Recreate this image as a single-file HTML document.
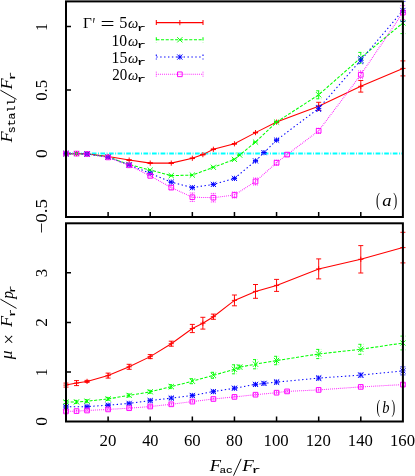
<!DOCTYPE html>
<html><head><meta charset="utf-8"><title>plot</title>
<style>html,body{margin:0;padding:0;background:#fff;}svg{display:block;}body{font-family:"Liberation Serif",serif;}</style></head>
<body>
<svg width="415" height="476" viewBox="0 0 415 476">
<rect width="415" height="476" fill="#ffffff"/>
<path d="M108.11 217.0v-5M108.11 421.5v-5M150.22 217.0v-5M150.22 421.5v-5M192.34 217.0v-5M192.34 421.5v-5M234.45 217.0v-5M234.45 421.5v-5M276.56 217.0v-5M276.56 421.5v-5M318.68 217.0v-5M318.68 421.5v-5M360.79 217.0v-5M360.79 421.5v-5M66.0 26.6h5M66.0 90.1h5M66.0 153.6h5M66.0 371.95h5M66.0 322.4h5M66.0 272.85h5" stroke="#000" stroke-width="1.5" fill="none"/>
<path d="M66.0 153.6H402.9" stroke="#00ffff" stroke-width="2.0" stroke-dasharray="4.7 1.5 0.9 1.5" fill="none"/>
<g id="pa">
<polyline points="66,153.6 76.53,153.6 87.06,153.8 108.11,156.5 129.17,160.1 150.22,163.1 171.28,163.1 192.34,158.3 202.87,154.6 213.39,149.3 234.45,143.8 255.51,132.6 276.56,122.1 318.68,106.3 360.79,86.3 402.9,68.4" fill="none" stroke="#ff0000" stroke-width="1.05"/>
<path d="M66 153.3V153.9M63.5 153.3H68.5M63.5 153.9H68.5M76.53 153.3V153.9M74.03 153.3H79.03M74.03 153.9H79.03M87.06 153.5V154.1M84.56 153.5H89.56M84.56 154.1H89.56M108.11 156.2V156.8M105.61 156.2H110.61M105.61 156.8H110.61M129.17 159.8V160.4M126.67 159.8H131.67M126.67 160.4H131.67M150.22 162.8V163.4M147.72 162.8H152.72M147.72 163.4H152.72M171.28 162.8V163.4M168.78 162.8H173.78M168.78 163.4H173.78M192.34 158V158.6M189.84 158H194.84M189.84 158.6H194.84M202.87 154.3V154.9M200.37 154.3H205.37M200.37 154.9H205.37M213.39 149V149.6M210.89 149H215.89M210.89 149.6H215.89M234.45 143.5V144.1M231.95 143.5H236.95M231.95 144.1H236.95M255.51 132.3V132.9M253.01 132.3H258.01M253.01 132.9H258.01M276.56 121.8V122.4M274.06 121.8H279.06M274.06 122.4H279.06M318.68 102.3V110.3M316.18 102.3H321.18M316.18 110.3H321.18M360.79 80.5V92.1M358.29 80.5H363.29M358.29 92.1H363.29M402.9 60.9V75.9M400.4 60.9H405.4M400.4 75.9H405.4" fill="none" stroke="#ff0000" stroke-width="0.95"/>
<path d="M63.4 153.6H68.6M66 151V156.2M73.93 153.6H79.13M76.53 151V156.2M84.46 153.8H89.66M87.06 151.2V156.4M105.51 156.5H110.71M108.11 153.9V159.1M126.57 160.1H131.77M129.17 157.5V162.7M147.62 163.1H152.82M150.22 160.5V165.7M168.68 163.1H173.88M171.28 160.5V165.7M189.74 158.3H194.94M192.34 155.7V160.9M200.27 154.6H205.47M202.87 152V157.2M210.79 149.3H215.99M213.39 146.7V151.9M231.85 143.8H237.05M234.45 141.2V146.4M252.91 132.6H258.11M255.51 130V135.2M273.96 122.1H279.16M276.56 119.5V124.7M316.07 106.3H321.28M318.68 103.7V108.9M358.19 86.3H363.39M360.79 83.7V88.9M400.3 68.4H405.5M402.9 65.8V71" fill="none" stroke="#ff0000" stroke-width="0.95"/>

<polyline points="66,153.6 76.53,153.6 87.06,154 108.11,157 129.17,164.5 150.22,170.1 171.28,175.6 192.34,175.1 213.39,167.3 234.45,159.4 239.71,155.1 255.51,142.1 276.56,122.1 318.68,94.8 360.79,57.8 402.9,22.9" fill="none" stroke="#00ff00" stroke-width="1.05" stroke-dasharray="3.1 1.6"/>
<path d="M66 153.3V153.9M63.5 153.3H68.5M63.5 153.9H68.5M76.53 153.3V153.9M74.03 153.3H79.03M74.03 153.9H79.03M87.06 153.7V154.3M84.56 153.7H89.56M84.56 154.3H89.56M108.11 156.7V157.3M105.61 156.7H110.61M105.61 157.3H110.61M129.17 164.2V164.8M126.67 164.2H131.67M126.67 164.8H131.67M150.22 169.8V170.4M147.72 169.8H152.72M147.72 170.4H152.72M171.28 175.3V175.9M168.78 175.3H173.78M168.78 175.9H173.78M192.34 174.8V175.4M189.84 174.8H194.84M189.84 175.4H194.84M213.39 167V167.6M210.89 167H215.89M210.89 167.6H215.89M234.45 159.1V159.7M231.95 159.1H236.95M231.95 159.7H236.95M239.71 154.8V155.4M237.21 154.8H242.21M237.21 155.4H242.21M255.51 141.8V142.4M253.01 141.8H258.01M253.01 142.4H258.01M276.56 121.8V122.4M274.06 121.8H279.06M274.06 122.4H279.06M318.68 90.8V98.8M316.18 90.8H321.18M316.18 98.8H321.18M360.79 52.4V63.2M358.29 52.4H363.29M358.29 63.2H363.29M402.9 12.2V33.6M400.4 12.2H405.4M400.4 33.6H405.4" fill="none" stroke="#00ff00" stroke-width="0.95" stroke-dasharray="3.1 1.6"/>
<path d="M63.4 151L68.6 156.2M63.4 156.2L68.6 151M73.93 151L79.13 156.2M73.93 156.2L79.13 151M84.46 151.4L89.66 156.6M84.46 156.6L89.66 151.4M105.51 154.4L110.71 159.6M105.51 159.6L110.71 154.4M126.57 161.9L131.77 167.1M126.57 167.1L131.77 161.9M147.62 167.5L152.82 172.7M147.62 172.7L152.82 167.5M168.68 173L173.88 178.2M168.68 178.2L173.88 173M189.74 172.5L194.94 177.7M189.74 177.7L194.94 172.5M210.79 164.7L215.99 169.9M210.79 169.9L215.99 164.7M231.85 156.8L237.05 162M231.85 162L237.05 156.8M237.11 152.5L242.31 157.7M237.11 157.7L242.31 152.5M252.91 139.5L258.11 144.7M252.91 144.7L258.11 139.5M273.96 119.5L279.16 124.7M273.96 124.7L279.16 119.5M316.07 92.2L321.28 97.4M316.07 97.4L321.28 92.2M358.19 55.2L363.39 60.4M358.19 60.4L363.39 55.2M400.3 20.3L405.5 25.5M400.3 25.5L405.5 20.3" fill="none" stroke="#00ff00" stroke-width="0.95"/>

<polyline points="66,153.6 87.06,154 108.11,157.2 129.17,165 150.22,173.3 171.28,182.1 192.34,187.6 213.39,184.4 234.45,178.4 255.51,160.9 263.93,152.6 276.56,140.1 318.68,108.4 360.79,60.2 402.9,10.5" fill="none" stroke="#0000ff" stroke-width="1.05" stroke-dasharray="1.4 2.5"/>
<path d="M66 153.3V153.9M63.5 153.3H68.5M63.5 153.9H68.5M87.06 153.7V154.3M84.56 153.7H89.56M84.56 154.3H89.56M108.11 156.9V157.5M105.61 156.9H110.61M105.61 157.5H110.61M129.17 164.7V165.3M126.67 164.7H131.67M126.67 165.3H131.67M150.22 173V173.6M147.72 173H152.72M147.72 173.6H152.72M171.28 181.8V182.4M168.78 181.8H173.78M168.78 182.4H173.78M192.34 187.3V187.9M189.84 187.3H194.84M189.84 187.9H194.84M213.39 184.1V184.7M210.89 184.1H215.89M210.89 184.7H215.89M234.45 178.1V178.7M231.95 178.1H236.95M231.95 178.7H236.95M255.51 160.6V161.2M253.01 160.6H258.01M253.01 161.2H258.01M263.93 152.3V152.9M261.43 152.3H266.43M261.43 152.9H266.43M276.56 139.8V140.4M274.06 139.8H279.06M274.06 140.4H279.06M318.68 105.4V111.4M316.18 105.4H321.18M316.18 111.4H321.18M360.79 56.7V63.7M358.29 56.7H363.29M358.29 63.7H363.29M402.9 1.4V21.3M400.4 1.4H405.4M400.4 21.3H405.4" fill="none" stroke="#0000ff" stroke-width="0.95" stroke-dasharray="1.4 2.5"/>
<path d="M63.4 153.6H68.6M66 151V156.2M63.4 151L68.6 156.2M63.4 156.2L68.6 151M84.46 154H89.66M87.06 151.4V156.6M84.46 151.4L89.66 156.6M84.46 156.6L89.66 151.4M105.51 157.2H110.71M108.11 154.6V159.8M105.51 154.6L110.71 159.8M105.51 159.8L110.71 154.6M126.57 165H131.77M129.17 162.4V167.6M126.57 162.4L131.77 167.6M126.57 167.6L131.77 162.4M147.62 173.3H152.82M150.22 170.7V175.9M147.62 170.7L152.82 175.9M147.62 175.9L152.82 170.7M168.68 182.1H173.88M171.28 179.5V184.7M168.68 179.5L173.88 184.7M168.68 184.7L173.88 179.5M189.74 187.6H194.94M192.34 185V190.2M189.74 185L194.94 190.2M189.74 190.2L194.94 185M210.79 184.4H215.99M213.39 181.8V187M210.79 181.8L215.99 187M210.79 187L215.99 181.8M231.85 178.4H237.05M234.45 175.8V181M231.85 175.8L237.05 181M231.85 181L237.05 175.8M252.91 160.9H258.11M255.51 158.3V163.5M252.91 158.3L258.11 163.5M252.91 163.5L258.11 158.3M261.33 152.6H266.53M263.93 150V155.2M261.33 150L266.53 155.2M261.33 155.2L266.53 150M273.96 140.1H279.16M276.56 137.5V142.7M273.96 137.5L279.16 142.7M273.96 142.7L279.16 137.5M316.07 108.4H321.28M318.68 105.8V111M316.07 105.8L321.28 111M316.07 111L321.28 105.8M358.19 60.2H363.39M360.79 57.6V62.8M358.19 57.6L363.39 62.8M358.19 62.8L363.39 57.6M400.3 10.5H405.5M402.9 7.9V13.1M400.3 7.9L405.5 13.1M400.3 13.1L405.5 7.9" fill="none" stroke="#0000ff" stroke-width="0.95"/>

<polyline points="66,153.6 76.53,153.6 87.06,154 108.11,157.4 129.17,165.3 150.22,175.9 171.28,187.6 192.34,197.2 213.39,197.7 234.45,195 255.51,181.5 276.56,162.7 287.09,154.6 318.68,130.8 360.79,74.8 402.9,12.6" fill="none" stroke="#ff00ff" stroke-width="1.05" stroke-dasharray="0.8 1.15"/>
<path d="M66 153V154.2M63.5 153H68.5M63.5 154.2H68.5M76.53 153V154.2M74.03 153H79.03M74.03 154.2H79.03M87.06 153.4V154.6M84.56 153.4H89.56M84.56 154.6H89.56M108.11 156.6V158.2M105.61 156.6H110.61M105.61 158.2H110.61M129.17 164.5V166.1M126.67 164.5H131.67M126.67 166.1H131.67M150.22 174.9V176.9M147.72 174.9H152.72M147.72 176.9H152.72M171.28 185.6V189.6M168.78 185.6H173.78M168.78 189.6H173.78M192.34 192.9V201.5M189.84 192.9H194.84M189.84 201.5H194.84M213.39 193.4V202M210.89 193.4H215.89M210.89 202H215.89M234.45 192V198M231.95 192H236.95M231.95 198H236.95M255.51 178V185M253.01 178H258.01M253.01 185H258.01M276.56 160.2V165.2M274.06 160.2H279.06M274.06 165.2H279.06M287.09 152.6V156.6M284.59 152.6H289.59M284.59 156.6H289.59M318.68 128.3V133.3M316.18 128.3H321.18M316.18 133.3H321.18M360.79 70.9V78.7M358.29 70.9H363.29M358.29 78.7H363.29M402.9 5.6V19.6M400.4 5.6H405.4M400.4 19.6H405.4" fill="none" stroke="#ff00ff" stroke-width="0.95" stroke-dasharray="0.8 1.15"/>
<path d="M63.66 151.26H68.34V155.94H63.66ZM74.19 151.26H78.87V155.94H74.19ZM84.72 151.66H89.4V156.34H84.72ZM105.77 155.06H110.45V159.74H105.77ZM126.83 162.96H131.51V167.64H126.83ZM147.88 173.56H152.56V178.24H147.88ZM168.94 185.26H173.62V189.94H168.94ZM190 194.86H194.68V199.54H190ZM211.05 195.36H215.73V200.04H211.05ZM232.11 192.66H236.79V197.34H232.11ZM253.17 179.16H257.85V183.84H253.17ZM274.22 160.36H278.9V165.04H274.22ZM284.75 152.26H289.43V156.94H284.75ZM316.34 128.46H321.01V133.14H316.34ZM358.45 72.46H363.13V77.14H358.45ZM400.56 10.26H405.24V14.94H400.56Z" fill="none" stroke="#ff00ff" stroke-width="0.95"/>

</g><g id="pb">
<polyline points="66,385.1 76.53,383.1 87.06,381.4 108.11,375.6 129.17,366.8 150.22,356.6 171.28,343.7 192.34,328.5 202.87,323.2 213.39,316.7 234.45,300.4 255.51,291.4 276.56,285.4 318.68,268.9 360.79,259.3 402.9,247.6" fill="none" stroke="#ff0000" stroke-width="1.05"/>
<path d="M66 383.1V387.1M63.5 383.1H68.5M63.5 387.1H68.5M76.53 380.6V385.6M74.03 380.6H79.03M74.03 385.6H79.03M87.06 380.4V382.4M84.56 380.4H89.56M84.56 382.4H89.56M108.11 373.1V378.1M105.61 373.1H110.61M105.61 378.1H110.61M129.17 364.3V369.3M126.67 364.3H131.67M126.67 369.3H131.67M150.22 354.6V358.6M147.72 354.6H152.72M147.72 358.6H152.72M171.28 341.2V346.2M168.78 341.2H173.78M168.78 346.2H173.78M192.34 324.4V332.6M189.84 324.4H194.84M189.84 332.6H194.84M202.87 317.3V329.1M200.37 317.3H205.37M200.37 329.1H205.37M213.39 314.1V319.3M210.89 314.1H215.89M210.89 319.3H215.89M234.45 295V305.8M231.95 295H236.95M231.95 305.8H236.95M255.51 284.5V298.3M253.01 284.5H258.01M253.01 298.3H258.01M276.56 279.4V291.4M274.06 279.4H279.06M274.06 291.4H279.06M318.68 258.9V278.9M316.18 258.9H321.18M316.18 278.9H321.18M360.79 245.6V273M358.29 245.6H363.29M358.29 273H363.29M402.9 232.3V262.9M400.4 232.3H405.4M400.4 262.9H405.4" fill="none" stroke="#ff0000" stroke-width="0.95"/>
<path d="M63.4 385.1H68.6M66 382.5V387.7M73.93 383.1H79.13M76.53 380.5V385.7M84.46 381.4H89.66M87.06 378.8V384M105.51 375.6H110.71M108.11 373V378.2M126.57 366.8H131.77M129.17 364.2V369.4M147.62 356.6H152.82M150.22 354V359.2M168.68 343.7H173.88M171.28 341.1V346.3M189.74 328.5H194.94M192.34 325.9V331.1M200.27 323.2H205.47M202.87 320.6V325.8M210.79 316.7H215.99M213.39 314.1V319.3M231.85 300.4H237.05M234.45 297.8V303M252.91 291.4H258.11M255.51 288.8V294M273.96 285.4H279.16M276.56 282.8V288M316.07 268.9H321.28M318.68 266.3V271.5M358.19 259.3H363.39M360.79 256.7V261.9M400.3 247.6H405.5M402.9 245V250.2" fill="none" stroke="#ff0000" stroke-width="0.95"/>

<polyline points="66,402.1 76.53,401.9 87.06,401.2 108.11,398.9 129.17,395.4 150.22,391.8 171.28,386.6 192.34,381.2 213.39,375.3 234.45,369.3 239.71,367.1 255.51,364.2 276.56,360.5 318.68,354 360.79,349.3 402.9,343" fill="none" stroke="#00ff00" stroke-width="1.05" stroke-dasharray="3.1 1.6"/>
<path d="M66 400.6V403.6M63.5 400.6H68.5M63.5 403.6H68.5M76.53 400.4V403.4M74.03 400.4H79.03M74.03 403.4H79.03M87.06 399.7V402.7M84.56 399.7H89.56M84.56 402.7H89.56M108.11 397.4V400.4M105.61 397.4H110.61M105.61 400.4H110.61M129.17 393.9V396.9M126.67 393.9H131.67M126.67 396.9H131.67M150.22 390.3V393.3M147.72 390.3H152.72M147.72 393.3H152.72M171.28 384.6V388.6M168.78 384.6H173.78M168.78 388.6H173.78M192.34 378.7V383.7M189.84 378.7H194.84M189.84 383.7H194.84M213.39 372.3V378.3M210.89 372.3H215.89M210.89 378.3H215.89M234.45 364.8V373.8M231.95 364.8H236.95M231.95 373.8H236.95M239.71 365.1V369.1M237.21 365.1H242.21M237.21 369.1H242.21M255.51 359.6V368.8M253.01 359.6H258.01M253.01 368.8H258.01M276.56 356.3V364.7M274.06 356.3H279.06M274.06 364.7H279.06M318.68 349.4V358.6M316.18 349.4H321.18M316.18 358.6H321.18M360.79 344.3V354.3M358.29 344.3H363.29M358.29 354.3H363.29M402.9 336.1V349.9M400.4 336.1H405.4M400.4 349.9H405.4" fill="none" stroke="#00ff00" stroke-width="0.95" stroke-dasharray="3.1 1.6"/>
<path d="M63.4 399.5L68.6 404.7M63.4 404.7L68.6 399.5M73.93 399.3L79.13 404.5M73.93 404.5L79.13 399.3M84.46 398.6L89.66 403.8M84.46 403.8L89.66 398.6M105.51 396.3L110.71 401.5M105.51 401.5L110.71 396.3M126.57 392.8L131.77 398M126.57 398L131.77 392.8M147.62 389.2L152.82 394.4M147.62 394.4L152.82 389.2M168.68 384L173.88 389.2M168.68 389.2L173.88 384M189.74 378.6L194.94 383.8M189.74 383.8L194.94 378.6M210.79 372.7L215.99 377.9M210.79 377.9L215.99 372.7M231.85 366.7L237.05 371.9M231.85 371.9L237.05 366.7M237.11 364.5L242.31 369.7M237.11 369.7L242.31 364.5M252.91 361.6L258.11 366.8M252.91 366.8L258.11 361.6M273.96 357.9L279.16 363.1M273.96 363.1L279.16 357.9M316.07 351.4L321.28 356.6M316.07 356.6L321.28 351.4M358.19 346.7L363.39 351.9M358.19 351.9L363.39 346.7M400.3 340.4L405.5 345.6M400.3 345.6L405.5 340.4" fill="none" stroke="#00ff00" stroke-width="0.95"/>

<polyline points="66,406.9 87.06,406.6 108.11,405.2 129.17,403.4 150.22,400.6 171.28,398.1 192.34,395.5 213.39,391.6 234.45,388.2 255.51,384.4 263.93,383.4 276.56,382.1 318.68,378.1 360.79,375.1 402.9,370.9" fill="none" stroke="#0000ff" stroke-width="1.05" stroke-dasharray="1.4 2.5"/>
<path d="M66 405.9V407.9M63.5 405.9H68.5M63.5 407.9H68.5M87.06 405.6V407.6M84.56 405.6H89.56M84.56 407.6H89.56M108.11 404.2V406.2M105.61 404.2H110.61M105.61 406.2H110.61M129.17 402.4V404.4M126.67 402.4H131.67M126.67 404.4H131.67M150.22 399.1V402.1M147.72 399.1H152.72M147.72 402.1H152.72M171.28 396.6V399.6M168.78 396.6H173.78M168.78 399.6H173.78M192.34 394V397M189.84 394H194.84M189.84 397H194.84M213.39 390.1V393.1M210.89 390.1H215.89M210.89 393.1H215.89M234.45 386.7V389.7M231.95 386.7H236.95M231.95 389.7H236.95M255.51 382.9V385.9M253.01 382.9H258.01M253.01 385.9H258.01M263.93 381.9V384.9M261.43 381.9H266.43M261.43 384.9H266.43M276.56 380.1V384.1M274.06 380.1H279.06M274.06 384.1H279.06M318.68 376.1V380.1M316.18 376.1H321.18M316.18 380.1H321.18M360.79 373.1V377.1M358.29 373.1H363.29M358.29 377.1H363.29M402.9 366.9V374.9M400.4 366.9H405.4M400.4 374.9H405.4" fill="none" stroke="#0000ff" stroke-width="0.95" stroke-dasharray="1.4 2.5"/>
<path d="M63.4 406.9H68.6M66 404.3V409.5M63.4 404.3L68.6 409.5M63.4 409.5L68.6 404.3M84.46 406.6H89.66M87.06 404V409.2M84.46 404L89.66 409.2M84.46 409.2L89.66 404M105.51 405.2H110.71M108.11 402.6V407.8M105.51 402.6L110.71 407.8M105.51 407.8L110.71 402.6M126.57 403.4H131.77M129.17 400.8V406M126.57 400.8L131.77 406M126.57 406L131.77 400.8M147.62 400.6H152.82M150.22 398V403.2M147.62 398L152.82 403.2M147.62 403.2L152.82 398M168.68 398.1H173.88M171.28 395.5V400.7M168.68 395.5L173.88 400.7M168.68 400.7L173.88 395.5M189.74 395.5H194.94M192.34 392.9V398.1M189.74 392.9L194.94 398.1M189.74 398.1L194.94 392.9M210.79 391.6H215.99M213.39 389V394.2M210.79 389L215.99 394.2M210.79 394.2L215.99 389M231.85 388.2H237.05M234.45 385.6V390.8M231.85 385.6L237.05 390.8M231.85 390.8L237.05 385.6M252.91 384.4H258.11M255.51 381.8V387M252.91 381.8L258.11 387M252.91 387L258.11 381.8M261.33 383.4H266.53M263.93 380.8V386M261.33 380.8L266.53 386M261.33 386L266.53 380.8M273.96 382.1H279.16M276.56 379.5V384.7M273.96 379.5L279.16 384.7M273.96 384.7L279.16 379.5M316.07 378.1H321.28M318.68 375.5V380.7M316.07 375.5L321.28 380.7M316.07 380.7L321.28 375.5M358.19 375.1H363.39M360.79 372.5V377.7M358.19 372.5L363.39 377.7M358.19 377.7L363.39 372.5M400.3 370.9H405.5M402.9 368.3V373.5M400.3 368.3L405.5 373.5M400.3 373.5L405.5 368.3" fill="none" stroke="#0000ff" stroke-width="0.95"/>

<polyline points="66,411.4 76.53,411.1 87.06,410.5 108.11,409.4 129.17,408.2 150.22,406.5 171.28,404.3 192.34,401.6 213.39,399 234.45,396.9 255.51,394.7 276.56,392.7 287.09,391.4 318.68,389.9 360.79,386.9 402.9,384.6" fill="none" stroke="#ff00ff" stroke-width="1.05" stroke-dasharray="0.8 1.15"/>
<path d="M66 410.4V412.4M63.5 410.4H68.5M63.5 412.4H68.5M76.53 410.1V412.1M74.03 410.1H79.03M74.03 412.1H79.03M87.06 409.5V411.5M84.56 409.5H89.56M84.56 411.5H89.56M108.11 408.4V410.4M105.61 408.4H110.61M105.61 410.4H110.61M129.17 407.2V409.2M126.67 407.2H131.67M126.67 409.2H131.67M150.22 405.5V407.5M147.72 405.5H152.72M147.72 407.5H152.72M171.28 403.3V405.3M168.78 403.3H173.78M168.78 405.3H173.78M192.34 400.6V402.6M189.84 400.6H194.84M189.84 402.6H194.84M213.39 398V400M210.89 398H215.89M210.89 400H215.89M234.45 395.9V397.9M231.95 395.9H236.95M231.95 397.9H236.95M255.51 393.7V395.7M253.01 393.7H258.01M253.01 395.7H258.01M276.56 391.7V393.7M274.06 391.7H279.06M274.06 393.7H279.06M287.09 390.4V392.4M284.59 390.4H289.59M284.59 392.4H289.59M318.68 388.9V390.9M316.18 388.9H321.18M316.18 390.9H321.18M360.79 385.9V387.9M358.29 385.9H363.29M358.29 387.9H363.29M402.9 383.1V386.1M400.4 383.1H405.4M400.4 386.1H405.4" fill="none" stroke="#ff00ff" stroke-width="0.95" stroke-dasharray="0.8 1.15"/>
<path d="M63.66 409.06H68.34V413.74H63.66ZM74.19 408.76H78.87V413.44H74.19ZM84.72 408.16H89.4V412.84H84.72ZM105.77 407.06H110.45V411.74H105.77ZM126.83 405.86H131.51V410.54H126.83ZM147.88 404.16H152.56V408.84H147.88ZM168.94 401.96H173.62V406.64H168.94ZM190 399.26H194.68V403.94H190ZM211.05 396.66H215.73V401.34H211.05ZM232.11 394.56H236.79V399.24H232.11ZM253.17 392.36H257.85V397.04H253.17ZM274.22 390.36H278.9V395.04H274.22ZM284.75 389.06H289.43V393.74H284.75ZM316.34 387.56H321.01V392.24H316.34ZM358.45 384.56H363.13V389.24H358.45ZM400.56 382.26H405.24V386.94H400.56Z" fill="none" stroke="#ff00ff" stroke-width="0.95"/>

</g>
<path d="M156.3 22.6H203.0M156.3 20.1V25.1M203.0 20.1V25.1" fill="none" stroke="#ff0000" stroke-width="1.05"/>
<path d="M177.25 22.6H182.45M179.85 20V25.2" fill="none" stroke="#ff0000" stroke-width="0.95"/>

<path d="M156.3 39.8H203.0M156.3 37.3V42.3M203.0 37.3V42.3" fill="none" stroke="#00ff00" stroke-width="1.05" stroke-dasharray="3.1 1.6"/>
<path d="M177.25 37.2L182.45 42.4M177.25 42.4L182.45 37.2" fill="none" stroke="#00ff00" stroke-width="0.95"/>

<path d="M156.3 57.05H203.0M156.3 54.55V59.55M203.0 54.55V59.55" fill="none" stroke="#0000ff" stroke-width="1.05" stroke-dasharray="1.4 2.5"/>
<path d="M177.25 57.05H182.45M179.85 54.45V59.65M177.25 54.45L182.45 59.65M177.25 59.65L182.45 54.45" fill="none" stroke="#0000ff" stroke-width="0.95"/>

<path d="M156.3 74.3H203.0M156.3 71.8V76.8M203.0 71.8V76.8" fill="none" stroke="#ff00ff" stroke-width="1.05" stroke-dasharray="0.8 1.15"/>
<path d="M177.51 71.96H182.19V76.64H177.51Z" fill="none" stroke="#ff00ff" stroke-width="0.95"/>

<g fill="none" stroke="#000" stroke-width="2" stroke-linejoin="miter">
<rect x="66.0" y="1.4" width="336.9" height="215.6"/>
<rect x="66.0" y="223.3" width="336.9" height="198.2"/>
</g>
<g id="txt" font-family="'Liberation Serif', serif" font-size="17.5" fill="#000" style="filter:grayscale(1)">
<text transform="translate(99.6 445.68) scale(0.963 0.999)" font-size="17.5">20</text>
<text transform="translate(142.15 445.68) scale(0.937 0.999)" font-size="17.5">40</text>
<text transform="translate(183.92 445.68) scale(0.958 0.999)" font-size="17.5">60</text>
<text transform="translate(226.12 445.68) scale(0.952 0.999)" font-size="17.5">80</text>
<text transform="translate(263.59 445.68) scale(0.957 0.999)" font-size="17.5">100</text>
<text transform="translate(305.7 445.68) scale(0.957 0.999)" font-size="17.5">120</text>
<text transform="translate(347.81 445.68) scale(0.957 0.999)" font-size="17.5">140</text>
<text transform="translate(389.93 445.68) scale(0.957 0.999)" font-size="17.5">160</text>
<g transform="translate(0 26.9) rotate(-90)"><text transform="translate(-3.92 47.15) scale(0.853 1.004)" font-size="17.5">1</text></g>
<g transform="translate(0 90.35) rotate(-90)"><text transform="translate(-10.49 46.89) scale(0.963 0.975)" font-size="17.5">0.5</text></g>
<g transform="translate(0 153.7) rotate(-90)"><text transform="translate(-4.36 46.98) scale(0.997 0.982)" font-size="17.5">0</text></g>
<g transform="translate(0 216.1) rotate(-90)"><text transform="translate(-17.51 46.89) scale(1.096 0.975)" font-size="17.5">−0.5</text></g>
<g transform="translate(0 421.3) rotate(-90)"><text transform="translate(-4.36 46.98) scale(0.997 0.982)" font-size="17.5">0</text></g>
<g transform="translate(0 372.05) rotate(-90)"><text transform="translate(-3.92 47.15) scale(0.853 1.004)" font-size="17.5">1</text></g>
<g transform="translate(0 322.5) rotate(-90)"><text transform="translate(-4.23 47.15) scale(0.986 1.004)" font-size="17.5">2</text></g>
<g transform="translate(0 273.05) rotate(-90)"><text transform="translate(-4.2 46.98) scale(0.950 0.989)" font-size="17.5">3</text></g>
<text transform="translate(209.84 471.35) scale(1.061 0.933)" font-size="17.5" font-style="italic">F</text>
<text transform="translate(219.38 473.05) scale(1.011 0.876)" font-size="11" font-family="'Liberation Mono', monospace" stroke="#000" stroke-width="0.15">ac</text>
<path d="M233.5 475.7L241.1 458.8" stroke="#000" stroke-width="0.95" fill="none"/>
<text transform="translate(242.24 471.35) scale(1.079 0.933)" font-size="17.5" font-style="italic">F</text>
<text transform="translate(251.87 473.05) scale(1.352 0.875)" font-size="11" font-family="'Liberation Mono', monospace" stroke="#000" stroke-width="0.15">r</text>
<g transform="translate(0 142.8) rotate(-90)">
<text transform="translate(0.34 12.45) scale(1.033 0.925)" font-size="17.5" font-style="italic">F</text>
<text transform="translate(9.63 15.15) scale(1.044 0.915)" font-size="11" font-family="'Liberation Mono', monospace" stroke="#000" stroke-width="0.15">stall</text>
<path d="M43.4 16.5L52.6 0.4" stroke="#000" stroke-width="0.95" fill="none"/>
<text transform="translate(53.34 12.45) scale(1.033 0.925)" font-size="17.5" font-style="italic">F</text>
<text transform="translate(62.53 15.25) scale(1.305 0.892)" font-size="11" font-family="'Liberation Mono', monospace" stroke="#000" stroke-width="0.15">r</text>
</g>
<g transform="translate(0 359.6) rotate(-90)">
<text transform="translate(0.25 12.41) scale(0.997 0.940)" font-size="17.5" font-style="italic">μ</text>
<text transform="translate(15.09 14.82) scale(1.044 1.086)" font-size="17.5">×</text>
<text transform="translate(32.54 12.45) scale(1.033 0.925)" font-size="17.5" font-style="italic">F</text>
<text transform="translate(42.72 15.25) scale(1.235 0.892)" font-size="11" font-family="'Liberation Mono', monospace" stroke="#000" stroke-width="0.15">r</text>
<path d="M51.2 16.5L60.4 0.4" stroke="#000" stroke-width="0.95" fill="none"/>
<text transform="translate(60.79 13) scale(0.895 0.943)" font-size="17.5" font-style="italic">p</text>
<text transform="translate(66.61 15.25) scale(1.166 0.892)" font-size="11" font-family="'Liberation Mono', monospace" stroke="#000" stroke-width="0.15">r</text>
</g>
<text transform="translate(82.89 28.45) scale(0.877 0.890)" font-size="17.5">Γ</text>
<text transform="translate(92.38 31.51) scale(0.762 1.191)" font-size="17.5">′</text>
<text transform="translate(100.6 30.37) scale(1.425 1.120)" font-size="17.5">=</text>
<text transform="translate(119.15 28.38) scale(0.931 0.980)" font-size="17.5">5</text>
<text transform="translate(128.02 28.4) scale(0.828 0.857)" font-size="17.5" font-style="italic">ω</text>
<text transform="translate(136.87 30.95) scale(1.422 0.859)" font-size="11" font-family="'Liberation Mono', monospace" stroke="#000" stroke-width="0.15">r</text>
<text transform="translate(111.52 45.53) scale(0.896 0.965)" font-size="17.5">10</text>
<text transform="translate(128.02 45.55) scale(0.828 0.857)" font-size="17.5" font-style="italic">ω</text>
<text transform="translate(136.87 48.1) scale(1.422 0.859)" font-size="11" font-family="'Liberation Mono', monospace" stroke="#000" stroke-width="0.15">r</text>
<text transform="translate(111.51 62.68) scale(0.901 0.972)" font-size="17.5">15</text>
<text transform="translate(128.02 62.7) scale(0.828 0.857)" font-size="17.5" font-style="italic">ω</text>
<text transform="translate(136.87 65.25) scale(1.422 0.859)" font-size="11" font-family="'Liberation Mono', monospace" stroke="#000" stroke-width="0.15">r</text>
<text transform="translate(112.17 79.83) scale(0.857 0.965)" font-size="17.5">20</text>
<text transform="translate(128.02 79.85) scale(0.828 0.857)" font-size="17.5" font-style="italic">ω</text>
<text transform="translate(136.87 82.4) scale(1.422 0.859)" font-size="11" font-family="'Liberation Mono', monospace" stroke="#000" stroke-width="0.15">r</text>
<text transform="translate(376.12 205.86) scale(0.672 1.061)" font-size="17.5">(</text>
<text transform="translate(382.19 205.89) scale(1.064 0.917)" font-size="17.5" font-style="italic">a</text>
<text transform="translate(393.19 205.86) scale(0.681 1.061)" font-size="17.5">)</text>
<text transform="translate(376.56 413.43) scale(0.627 1.068)" font-size="17.5">(</text>
<text transform="translate(382.24 413.18) scale(0.828 0.965)" font-size="17.5" font-style="italic">b</text>
<text transform="translate(391.42 413.43) scale(0.637 1.068)" font-size="17.5">)</text>
</g>
</svg>
</body></html>
